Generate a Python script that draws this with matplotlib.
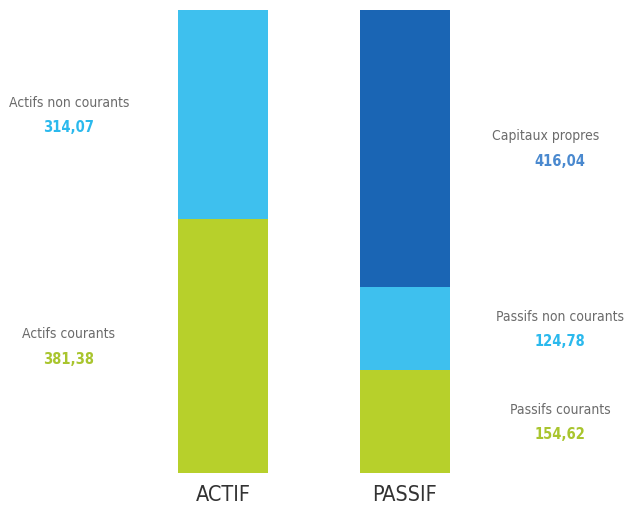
import matplotlib
matplotlib.use("Agg")
import matplotlib.pyplot as plt

# Bilan (en millions)
colonnes = ["ACTIF", "PASSIF"]
actif_labels = ["Actifs courants", "Actifs non courants"]
actif_vals = [381.38, 314.07]
passif_labels = ["Passifs courants", "Passifs non courants", "Capitaux propres"]
passif_vals = [154.62, 124.78, 416.04]

green = "#b7d02b"
light = "#3ec0ee"
dark = "#1a65b4"
actif_colors = [green, light]
passif_colors = [green, light, dark]
value_colors_a = ["#a9c52e", "#2bb9ed"]
value_colors_p = ["#a9c52e", "#2bb9ed", "#4a89cf"]

plt.rcParams['font.family'] = ['DejaVu Sans']

fig = plt.figure(figsize=(6.27, 5.07), dpi=100)
ax = fig.add_axes([0, 34 / 507, 1, 463 / 507])
ax.set_xlim(-223 / 182, (627 - 223) / 182)
ax.set_ylim(0, sum(actif_vals))
ax.axis("off")

w = 90 / 182

def stack(i, vals, labels, colors, vcolors, dx, dxs):
    bottom = 0
    for v, lab, c, vc, ddx in zip(vals, labels, colors, vcolors, dxs):
        ax.bar(i, v, bottom=bottom, width=w, color=c, linewidth=0)
        mid = bottom + v / 2
        ax.annotate(lab, xy=(i, mid), xytext=(dx + ddx, 12), textcoords="offset pixels",
                    ha="center", va="center", fontsize=10, color="#6b6b6b",
                    fontstretch="condensed")
        ax.annotate(f"{v:.2f}".replace(".", ","), xy=(i, mid), xytext=(dx, -13),
                    textcoords="offset pixels", ha="center", va="center",
                    fontsize=10.5, fontweight="bold", color=vc, fontstretch="condensed")
        bottom += v

stack(0, actif_vals, actif_labels, actif_colors, value_colors_a, -154, [0, 0])
stack(1, passif_vals, passif_labels, passif_colors, value_colors_p, 155, [0, 0, -14])

for i, col in enumerate(colonnes):
    ax.annotate(col, xy=(i, 0), xytext=(0, -22), textcoords="offset pixels",
                ha="center", va="center", fontsize=15.5, color="#333333",
                fontstretch="condensed", annotation_clip=False)

fig.savefig("out.png", dpi=100)
